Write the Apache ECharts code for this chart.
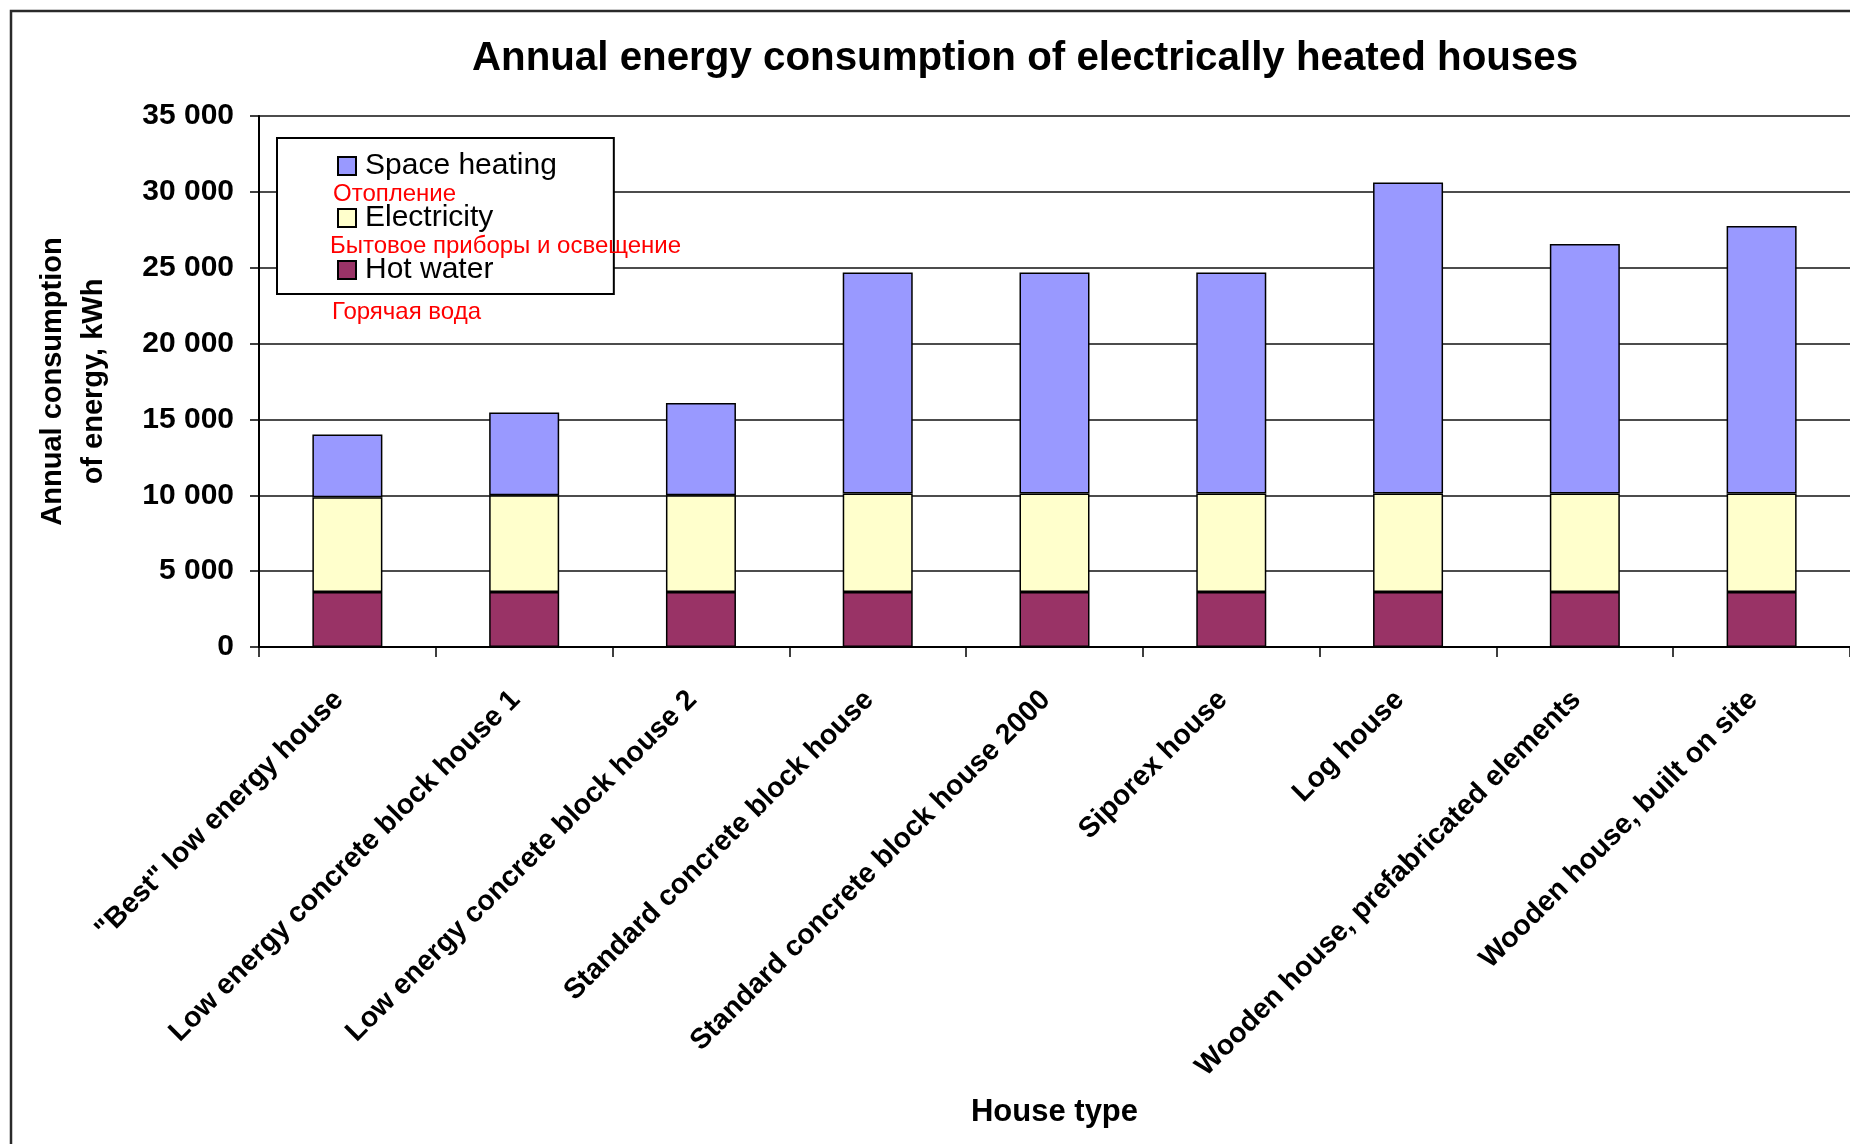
<!DOCTYPE html>
<html>
<head>
<meta charset="utf-8">
<title>Annual energy consumption of electrically heated houses</title>
<script src="https://cdn.jsdelivr.net/npm/echarts@6/dist/echarts.min.js"></script>
<style>
  html, body { margin: 0; padding: 0; background: #fff; }
  #chart { width: 1850px; height: 1144px; }
</style>
</head>
<body>
<div id="chart"></div>
<script>
// House types along the category axis
const categories = [
  '"Best" low energy house',
  'Low energy concrete block house 1',
  'Low energy concrete block house 2',
  'Standard concrete block house',
  'Standard concrete block house 2000',
  'Siporex house',
  'Log house',
  'Wooden house, prefabricated elements',
  'Wooden house, built on site'
];

// Annual consumption per component, kWh
const hotWater     = [3630, 3630, 3630, 3630, 3630, 3630, 3630, 3630, 3630];
const electricity  = [6240, 6370, 6370, 6490, 6490, 6490, 6490, 6490, 6490];
const spaceHeating = [4140, 5460, 6075, 14560, 14560, 14560, 20500, 16450, 17630];

// Value axis range
const yMin = 0;
const yMax = 35000;
const yStep = 5000;

// Series names and their Russian captions under the legend entries
const seriesNames = ['Space heating', 'Electricity', 'Hot water'];
const captions = ['Отопление', 'Бытовое приборы и освещение', 'Горячая вода'];

const FONT = '"Liberation Sans", Arial, sans-serif';

const chart = echarts.init(document.getElementById('chart'), null, { renderer: 'canvas' });

function fmtThousands(v) {
  return String(v).replace(/\B(?=(\d{3})+(?!\d))/g, ' ');
}

const barBorder = { borderColor: '#000', borderWidth: 1.5 };

chart.setOption({
  backgroundColor: '#fff',
  animation: false,
  grid: { left: 259, top: 116, width: 1598, height: 531, containLabel: false },
  legend: {
    data: seriesNames,
    orient: 'vertical',
    left: 277,
    top: 138,
    padding: [13, 57, 9, 60],
    itemGap: 22,
    itemWidth: 18,
    itemHeight: 18,
    icon: 'rect',
    borderColor: '#000',
    borderWidth: 2,
    backgroundColor: '#fff',
    itemStyle: { borderColor: '#000', borderWidth: 2 },
    textStyle: {
      fontFamily: FONT,
      fontSize: 30,
      color: '#000',
      lineHeight: 30,
      padding: [0, 0, 0, 4]
    }
  },
  xAxis: {
    type: 'category',
    data: categories,
    name: 'House type',
    nameLocation: 'middle',
    nameGap: 450,
    nameTextStyle: { fontFamily: FONT, fontSize: 31, fontWeight: 'bold', color: '#000' },
    axisLine: { lineStyle: { color: '#000', width: 2 } },
    axisTick: { show: true, length: 10, lineStyle: { color: '#000', width: 1.5 } },
    axisLabel: {
      rotate: 45,
      margin: 40,
      interval: 0,
      padding: [0, 12, 0, 0],
      fontFamily: FONT,
      fontSize: 28.5,
      fontWeight: 'bold',
      color: '#000'
    },
    splitLine: { show: false }
  },
  yAxis: {
    type: 'value',
    min: yMin,
    max: yMax,
    interval: yStep,
    name: 'Annual consumption\nof energy, kWh',
    nameLocation: 'middle',
    nameGap: 145,
    nameRotate: 90,
    nameTextStyle: {
      fontFamily: FONT, fontSize: 29, fontWeight: 'bold', color: '#000',
      lineHeight: 41, align: 'center'
    },
    axisLine: { show: true, lineStyle: { color: '#000', width: 2 } },
    axisTick: { show: true, length: 9, lineStyle: { color: '#000', width: 1.5 } },
    axisLabel: {
      margin: 25,
      fontFamily: FONT,
      fontSize: 30,
      fontWeight: 'bold',
      color: '#000',
      formatter: fmtThousands
    },
    splitLine: { show: true, lineStyle: { color: '#111', width: 1.6 } }
  },
  series: [
    {
      name: 'Hot water', type: 'bar', stack: 'total', barWidth: 70,
      data: hotWater,
      itemStyle: Object.assign({ color: '#993366' }, barBorder)
    },
    {
      name: 'Electricity', type: 'bar', stack: 'total', barWidth: 70,
      data: electricity,
      itemStyle: Object.assign({ color: '#FFFFCC' }, barBorder)
    },
    {
      name: 'Space heating', type: 'bar', stack: 'total', barWidth: 70,
      data: spaceHeating,
      itemStyle: Object.assign({ color: '#9999FF' }, barBorder)
    }
  ],
  graphic: [
    {
      // chart-area frame
      type: 'rect', silent: true, z: -10,
      shape: { x: 11, y: 11, width: 1900, height: 1200 },
      style: { fill: 'none', stroke: '#2a2a2a', lineWidth: 2.5 }
    },
    {
      type: 'text', silent: true,
      style: {
        text: 'Annual energy consumption of electrically heated houses',
        x: 1025, y: 59, align: 'center', verticalAlign: 'middle',
        font: 'bold 40.3px ' + FONT, fill: '#000'
      }
    },
    {
      type: 'text', silent: true, z: 100,
      style: { text: captions[0], x: 333, y: 194, verticalAlign: 'middle',
        font: '24px ' + FONT, fill: '#ff0000' }
    },
    {
      type: 'text', silent: true, z: 100,
      style: { text: captions[1], x: 330, y: 246, verticalAlign: 'middle',
        font: '24px ' + FONT, fill: '#ff0000' }
    },
    {
      type: 'text', silent: true, z: 100,
      style: { text: captions[2], x: 332, y: 312, verticalAlign: 'middle',
        font: '24px ' + FONT, fill: '#ff0000' }
    }
  ]
});
</script>
</body>
</html>
